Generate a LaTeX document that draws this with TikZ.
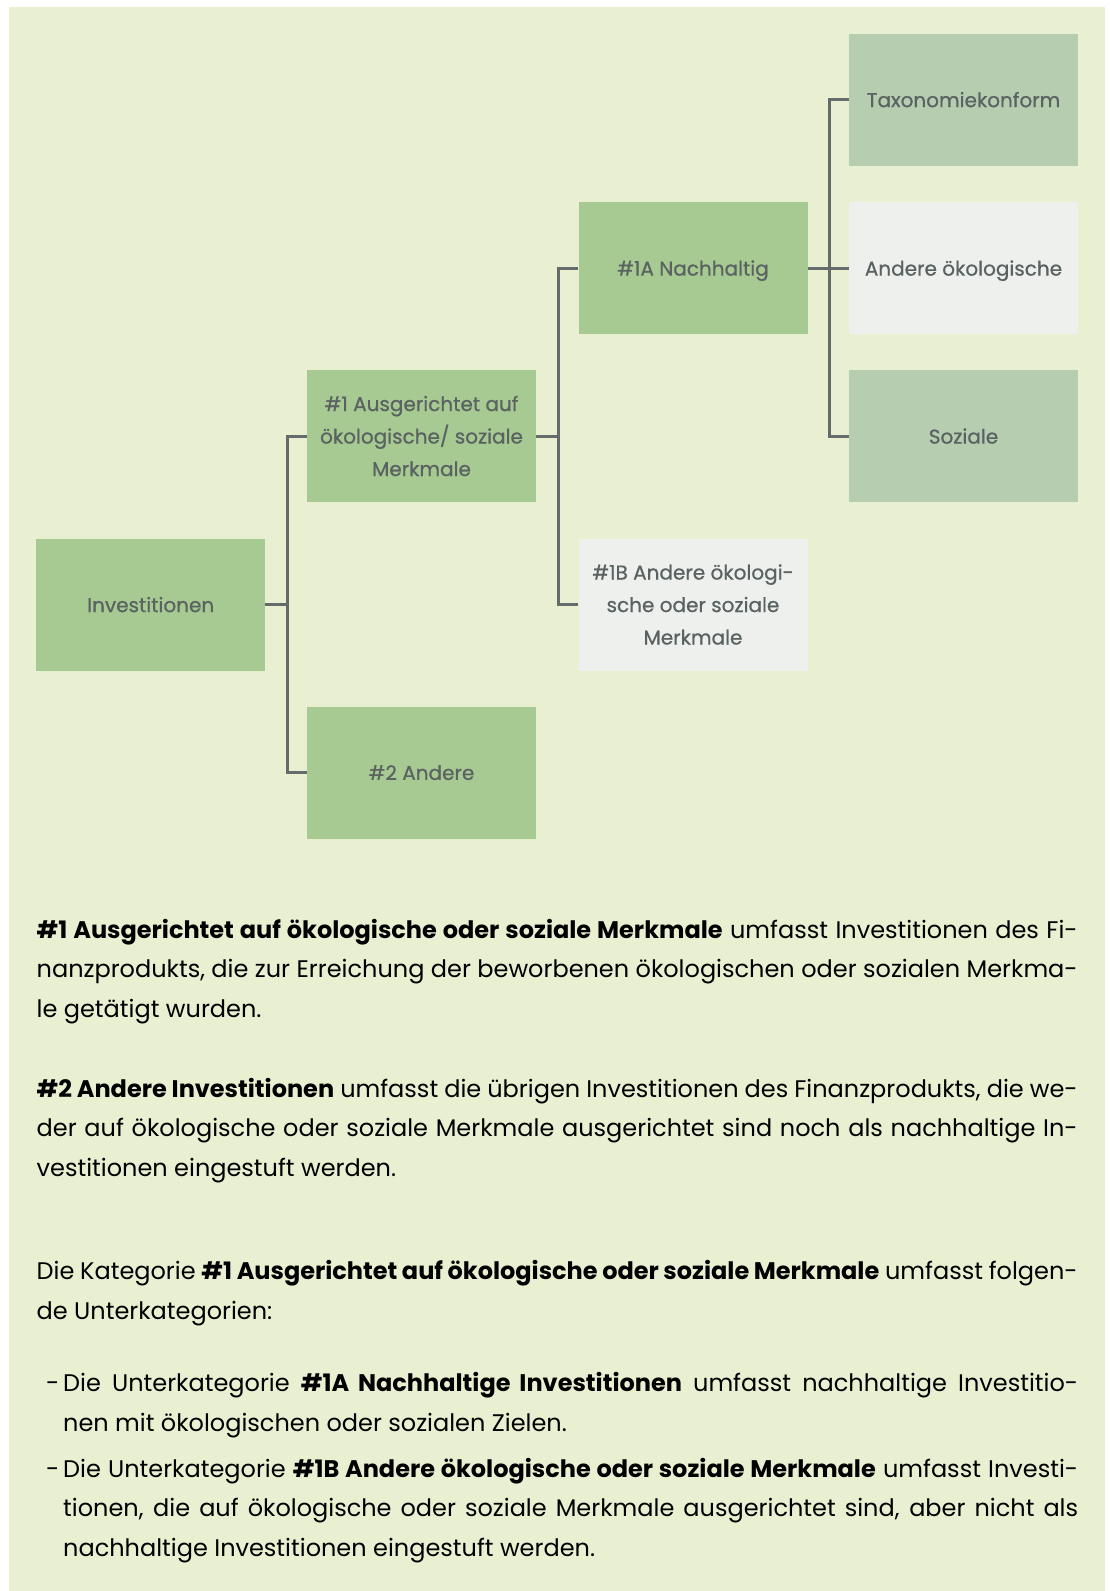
\documentclass[tikz,border=0pt]{standalone}
\usepackage{fontspec}
\setmainfont{Poppins}
\newfontfamily\boxfont[FakeBold=0.7]{Poppins}
\usetikzlibrary{positioning}

\definecolor{bggreen}{HTML}{E9F0D1}
\definecolor{boxgreen}{HTML}{A6CA91}
\definecolor{boxsage}{HTML}{B6CDB0}
\definecolor{boxgrey}{HTML}{EEF0ED}
\definecolor{linegray}{HTML}{646B6B}
\definecolor{txtgray}{HTML}{5A6262}

% one justified line of given width
\newcommand{\jline}[2][1041pt]{\makebox[#1][s]{#2}}

\tikzset{
  box/.style={minimum width=229pt,minimum height=132pt,inner sep=0pt,
    align=center,text=txtgray,font=\boxfont\fontsize{20}{32.5}\selectfont},
  greenbox/.style={box,fill=boxgreen},
  sagebox/.style={box,fill=boxsage},
  greybox/.style={box,fill=boxgrey},
  oneline/.style={text depth=0pt},
  link/.style={draw=linegray,line width=3pt},
  para/.style={inner sep=0pt,align=left,anchor=base west,
    font=\fontsize{24}{39.6}\selectfont}
}

\begin{document}
\begin{tikzpicture}[x=1pt,y=-1pt]
\useasboundingbox (0,0) rectangle (1110,1591);
\fill[bggreen] (9,7) rectangle (1105,1591);

% boxes
\node[greenbox,oneline] (I) at (150.75,604.5) {Investitionen};
\node[greenbox] (A1) at (421.5,436) {\#1 Ausgerichtet auf\\ökologische/ soziale\\Merkmale};
\node[greenbox,oneline] (A2) at (421.5,772.5) {\#2 Andere};
\node[greenbox,oneline] (N1A) at (693,268) {\#1A Nachhaltig};
\node[greybox] (N1B) at (693,604.5) {\#1B Andere ökologi-\\sche oder soziale\\Merkmale};
\node[sagebox,oneline] (T) at (963.5,99.5) {Taxonomiekonform};
\node[greybox,oneline] (O) at (963.5,268) {Andere ökologische};
\node[sagebox,oneline] (S) at (963.5,436) {Soziale};

% junctions
\coordinate (J1) at (287,604.5);
\coordinate (J2) at (558,436);
\coordinate (J3) at (829,268);

\draw[link] (I.east) -- (J1);
\draw[link] (A1.west) -| (J1) |- (A2.west);
\draw[link] (A1.east) -- (J2);
\draw[link] (N1A.west) -| (J2) |- (N1B.west);
\draw[link] (N1A.east) -- (J3);
\draw[link] (T.west) -| (J3) |- (S.west);
\draw[link] (O.west) -- (J3);

% text below (base = last line)
\node[para] (P1) at (36.5,1017.5) {%
\jline{\textbf{\#1 Ausgerichtet auf ökologische oder soziale Merkmale} umfasst Investitionen des Fi-}\\
\jline{nanzprodukts, die zur Erreichung der beworbenen ökologischen oder sozialen Merkma-}\\
le getätigt wurden.};
\node[para] (P2) at (36.5,1176.5) {%
\jline{\textbf{\#2 Andere Investitionen} umfasst die übrigen Investitionen des Finanzprodukts, die we-}\\
\jline{der auf ökologische oder soziale Merkmale ausgerichtet sind noch als nachhaltige In-}\\
vestitionen eingestuft werden.};
\node[para] (P3) at (36.5,1319.5) {%
\jline{Die Kategorie \textbf{\#1 Ausgerichtet auf ökologische oder soziale Merkmale} umfasst folgen-}\\
de Unterkategorien:};

\node[para] (D1) at (46,1391.5) {-};
\node[para] (L1) at (63,1431.5) {%
\jline[1015pt]{Die Unterkategorie \textbf{\#1A Nachhaltige Investitionen} umfasst nachhaltige Investitio-}\\
nen mit ökologischen oder sozialen Zielen.};
\node[para] (D2) at (46,1477) {-};
\node[para] (L2) at (63,1556.5) {%
\jline[1015pt]{Die Unterkategorie \textbf{\#1B Andere ökologische oder soziale Merkmale} umfasst Investi-}\\
\jline[1015pt]{tionen, die auf ökologische oder soziale Merkmale ausgerichtet sind, aber nicht als}\\
nachhaltige Investitionen eingestuft werden.};
\end{tikzpicture}
\end{document}
